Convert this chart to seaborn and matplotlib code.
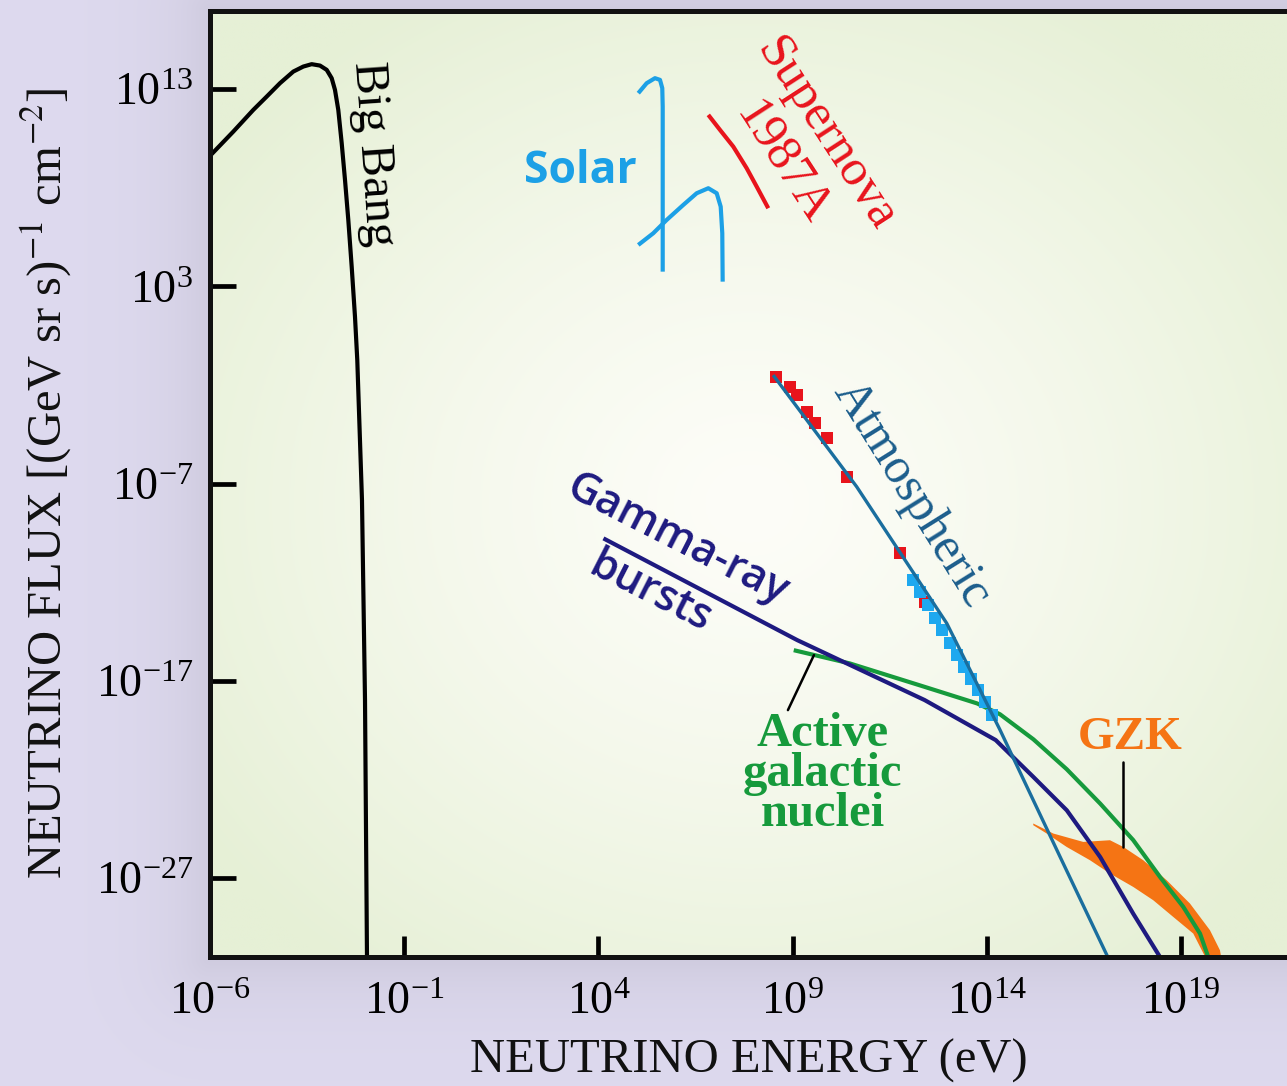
import numpy as np
import matplotlib
matplotlib.use("Agg")
import matplotlib.pyplot as plt
from matplotlib.ticker import NullLocator, LogFormatterMathtext
import seaborn as sns

# ---------------- data (log10 of energy in eV, log10 of flux) ----------------
bigbang_logE = [-6.0, -5.40, -4.885, -4.54, -4.198, -3.855, -3.598, -3.382, -3.168, -2.995,
                -2.867, -2.782, -2.697, -2.609, -2.524, -2.439, -2.352, -2.267, -2.208,
                -2.087, -2.009, -1.958]
bigbang_logF = [9.62, 10.849, 11.95, 12.625, 13.304, 13.893, 14.147, 14.268, 14.197, 13.979,
                13.558, 12.964, 11.95, 10.26, 8.398, 6.369, 4.0, 1.463, -0.734,
                -7.837, -17.984, -31.02]

solar1_logE = [5.027, 5.243, 5.457, 5.586, 5.645, 5.656, 5.656]
solar1_logF = [12.797, 13.304, 13.558, 13.472, 13.051, 12.117, 3.746]
solar2_logE = [5.027, 5.413, 5.758, 6.186, 6.531, 6.830, 7.046, 7.149, 7.190, 7.200]
solar2_logF = [5.100, 5.694, 6.369, 7.130, 7.723, 7.977, 7.723, 7.044, 5.694, 3.239]

sn_logE = [6.830, 7.131, 7.473, 7.818, 8.076, 8.374]
sn_logF = [11.696, 10.935, 10.088, 8.992, 8.058, 6.962]

atm_logE = [8.50, 10.65, 12.97, 14.34, 15.89, 17.13]
atm_logF = [-1.50, -7.16, -14.09, -19.49, -25.94, -31.07]
atm_red_logE = [8.573, 8.933, 9.106, 9.363, 9.577, 9.878, 10.393, 11.762, 12.406]
atm_red_logF = [-1.581, -2.089, -2.510, -3.357, -3.946, -4.707, -6.655, -10.50, -12.997]
atm_blue_logE = [12.100, 12.280, 12.486, 12.666, 12.846, 13.052, 13.233, 13.413, 13.593,
                 13.773, 13.954, 14.134]
atm_blue_logF = [-11.896, -12.505, -13.164, -13.824, -14.433, -15.092, -15.701, -16.310,
                 -16.919, -17.477, -18.086, -18.746]

grb_logE = [4.13, 9.12, 12.40, 14.23, 15.20, 16.06, 16.92, 17.77, 18.46]
grb_logF = [-9.78, -14.94, -17.98, -20.01, -21.88, -23.57, -25.94, -28.81, -31.01]

agn_logE = [9.03, 10.47, 12.40, 13.75, 14.34, 15.20, 16.06, 16.92, 17.77, 18.46, 19.06, 19.49, 19.70]
agn_logF = [-15.45, -16.12, -17.31, -18.15, -18.70, -19.97, -21.49, -23.23, -25.08, -26.95,
            -28.47, -29.82, -31.0]

gzk_upper_logE = [15.197, 15.712, 16.484, 17.172, 17.514, 18.029, 18.632, 19.232, 19.747, 20.004, 20.06]
gzk_upper_logF = [-24.240, -24.748, -25.174, -25.088, -25.428, -26.102, -27.117, -28.299, -29.654, -30.668, -31.3]
gzk_lower_logE = [19.70, 19.317, 18.802, 18.287, 17.772, 17.172, 16.657, 16.057, 15.543, 15.197]
gzk_lower_logF = [-31.3, -29.821, -28.979, -28.132, -27.457, -26.777, -26.102, -25.428, -24.748, -24.326]

xtick_exps = [-6, -1, 4, 9, 14, 19]
ytick_exps = [13, 3, -7, -17, -27]

# ---------------- style ----------------
sns.set_theme(style="white")
plt.rcParams["font.family"] = ["Liberation Serif", "DejaVu Serif"]
plt.rcParams["mathtext.fontset"] = "stix"

C_SOLAR = "#1ca0e6"
C_SN = "#e8141c"
C_ATM = "#1a6e9e"
C_ATM_TXT = "#1b5d8c"
C_ATM_BLUE = "#1ea8ef"
C_GRB = "#1e1a80"
C_AGN = "#169a3c"
C_GZK = "#f57414"

W, H = 1287, 1086
fig = plt.figure(figsize=(W / 100, H / 100), dpi=100)

# figure background with soft shadow around the plot box
L, R, T, B = 210, 1287, 10.5, 957
yy, xx = np.mgrid[0:H, 0:W]
ddx = np.maximum(np.maximum(L - xx, xx - R), 0)
ddy = np.maximum(np.maximum(T - yy, yy - B), 0)
d = np.hypot(ddx, ddy)
base = np.array([222, 218, 239]) / 255.0
shade = 0.07 * np.exp(-d / 45.0)
bgimg = base[None, None, :] * (1 - shade[..., None])
bg_ax = fig.add_axes([0, 0, 1, 1], zorder=-10)
bg_ax.imshow(bgimg, extent=[0, 1, 0, 1], aspect="auto")
bg_ax.axis("off")

pos = [L / W, (H - B) / H, 1 - L / W, (B - T) / H]

# plot-area radial gradient
gax = fig.add_axes(pos, zorder=-5)
gh, gw = 400, 480
gy, gx = np.mgrid[0:gh, 0:gw]
rx = (gx / gw - 0.50) / 0.62
ry = (gy / gh - 0.52) / 0.62
rr = np.clip(np.hypot(rx, ry), 0, 1)
c_center = np.array([253, 253, 248]) / 255.0
c_edge = np.array([230, 240, 214]) / 255.0
grad = c_center[None, None, :] * (1 - rr[..., None] ** 1.3) + c_edge[None, None, :] * (rr[..., None] ** 1.3)
gax.imshow(grad, extent=[0, 1, 0, 1], aspect="auto")
gax.axis("off")

ax = fig.add_axes(pos, zorder=0)
ax.set_facecolor("none")
ax.set_xscale("log")
ax.set_yscale("log")
ax.set_xlim(10.0 ** -6, 10.0 ** 21.73)
ax.set_ylim(10.0 ** -31.01, 10.0 ** 16.99)

def P(a):
    return 10.0 ** np.asarray(a, dtype=float)

lw = 3.0
line_kw = dict(sort=False, estimator=None, ax=ax)
line_style = dict(solid_joinstyle="round", solid_capstyle="butt")
sns.lineplot(x=P(bigbang_logE), y=P(bigbang_logF), color="black", lw=lw, **line_kw, **line_style)
sns.lineplot(x=P(solar1_logE), y=P(solar1_logF), color=C_SOLAR, lw=lw, **line_kw, **line_style)
sns.lineplot(x=P(solar2_logE), y=P(solar2_logF), color=C_SOLAR, lw=lw, **line_kw, **line_style)
sns.lineplot(x=P(sn_logE), y=P(sn_logF), color=C_SN, lw=lw, **line_kw, **line_style)

# GZK band
gzk_x = np.concatenate([P(gzk_upper_logE), P(gzk_lower_logE)])
gzk_y = np.concatenate([P(gzk_upper_logF), P(gzk_lower_logF)])
ax.fill(gzk_x, gzk_y, color=C_GZK, lw=0, zorder=1.5)

sns.lineplot(x=P(agn_logE), y=P(agn_logF), color=C_AGN, lw=lw, zorder=2, **line_kw, **line_style)
sns.lineplot(x=P(grb_logE), y=P(grb_logF), color=C_GRB, lw=lw, zorder=2.1, **line_kw, **line_style)

sns.scatterplot(x=P(atm_red_logE), y=P(atm_red_logF), marker="s", s=75,
                color=C_SN, edgecolor="none", ax=ax, zorder=2.2)
sns.scatterplot(x=P(atm_blue_logE), y=P(atm_blue_logF), marker="s", s=70,
                color=C_ATM_BLUE, edgecolor="none", ax=ax, zorder=2.2)
sns.lineplot(x=P(atm_logE), y=P(atm_logF), color=C_ATM, lw=2.4, zorder=2.3, **line_kw, **line_style)

# pointer lines
ax.plot(P([8.88, 9.55]), P([-18.49, -15.70]), color="black", lw=1.8, zorder=2.4)
ax.plot(P([17.51, 17.51]), P([-21.12, -25.43]), color="black", lw=1.8, zorder=2.4)

# labels
def lab(lx, ly, s, **kw):
    ax.text(10.0 ** lx, 10.0 ** ly, s, ha="center", va="center",
            rotation_mode="anchor", **kw)

lab(-1.78, 9.70, "Big Bang", rotation=-86, fontsize=35, color="black")
lab(3.53, 8.80, "Solar", fontsize=32, color=C_SOLAR, fontweight="bold",
    family=["Open Sans", "DejaVu Sans"])
lab(9.86, 10.72, "Supernova", rotation=-57, fontsize=37, color=C_SN)
lab(8.73, 9.26, "1987A", rotation=-57, fontsize=36, color=C_SN)
lab(12.07, -7.53, "Atmospheric", rotation=-58, fontsize=36, color=C_ATM_TXT)
lab(6.02, -9.86, "Gamma-ray", rotation=-27, fontsize=31, color=C_GRB, fontweight="semibold",
    family=["Open Sans", "DejaVu Sans"])
lab(5.33, -12.55, "bursts", rotation=-27, fontsize=31, color=C_GRB, fontweight="semibold",
    family=["Open Sans", "DejaVu Sans"])
lab(9.78, -21.75, "Active\ngalactic\nnuclei", fontsize=35, color=C_AGN,
    fontweight="bold", linespacing=0.88)
lab(17.69, -19.91, "GZK", fontsize=34, color=C_GZK, fontweight="bold")

# axes styling
ax.set_xticks(P(xtick_exps))
ax.set_yticks(P(ytick_exps))
ax.xaxis.set_minor_locator(NullLocator())
ax.yaxis.set_minor_locator(NullLocator())
ax.xaxis.set_major_formatter(LogFormatterMathtext())
ax.yaxis.set_major_formatter(LogFormatterMathtext())
ax.tick_params(axis="y", direction="in", length=19, width=3.4, labelsize=33, pad=12,
               colors="black", left=True)
ax.tick_params(axis="x", direction="in", length=15, width=3.4, labelsize=33, pad=18,
               colors="black", bottom=True)
for side in ["left", "bottom", "top"]:
    ax.spines[side].set_visible(True)
    ax.spines[side].set_linewidth(3.6)
    ax.spines[side].set_color("#111111")
ax.spines["right"].set_visible(False)

ax.set_xlabel("NEUTRINO ENERGY (eV)", fontsize=35, color="#111111", labelpad=10)
ax.set_ylabel("NEUTRINO FLUX [(GeV sr s)$^{-1}$ cm$^{-2}$]", fontsize=35,
              color="#111111", labelpad=16)

fig.savefig("out.png", dpi=100)
